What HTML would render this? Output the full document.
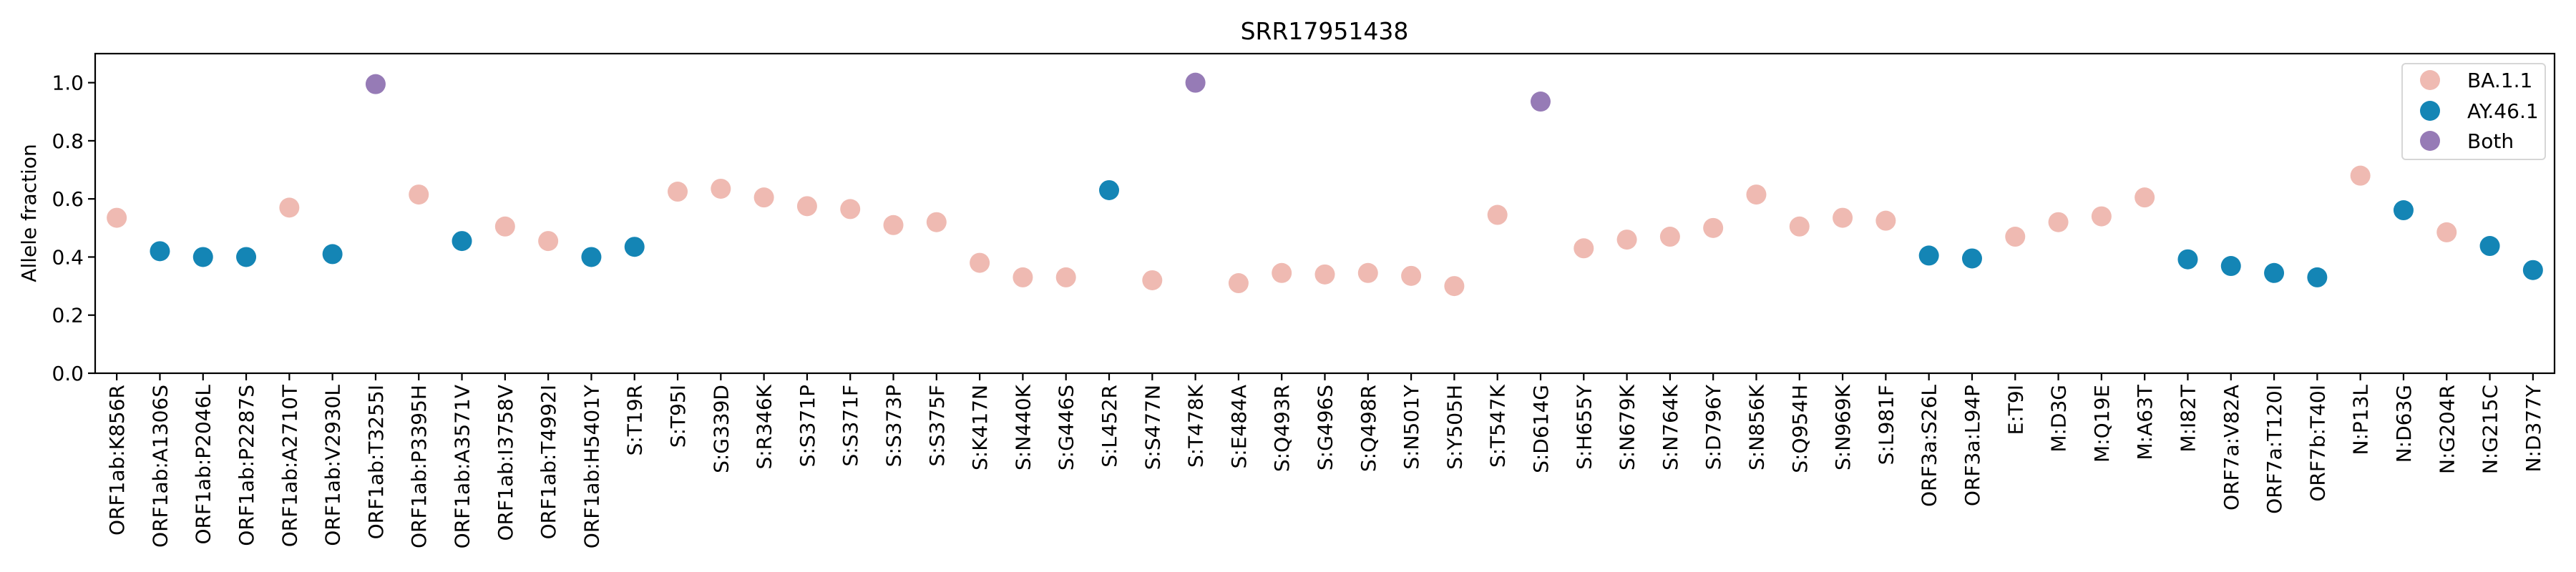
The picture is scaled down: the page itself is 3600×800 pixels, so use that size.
<!DOCTYPE html>
<html><head><meta charset="utf-8"><style>
html,body{margin:0;padding:0;background:#fff}
svg{display:block;font-family:"DejaVu Sans","Liberation Sans",sans-serif}
</style></head><body>
<svg id="chart" width="3600" height="800" viewBox="0 0 3600 800" xmlns="http://www.w3.org/2000/svg">
<text x="1851" y="55" font-size="33" text-anchor="middle">SRR17951438</text>
<text transform="translate(50,298) rotate(-90)" font-size="28" text-anchor="middle">Allele fraction</text>
<g id="yaxis"></g>
<g id="xaxis"></g>
<g id="points"></g>
<rect x="133" y="75" width="3437" height="447" fill="none" stroke="#000" stroke-width="2.2"/>
<g>
<rect x="3357" y="89" width="200" height="134" rx="5" fill="#fff" fill-opacity="0.8" stroke="#d6d6d6" stroke-width="2"/>
<circle cx="3396" cy="112" r="14" fill="#efbab2"/>
<text x="3448" y="122" font-size="28">BA.1.1</text>
<circle cx="3396" cy="155" r="14" fill="#1485b5"/>
<text x="3448" y="165" font-size="28">AY.46.1</text>
<circle cx="3396" cy="197" r="14" fill="#967bb6"/>
<text x="3448" y="207" font-size="28">Both</text>
</g>
</svg>
<script>
const categories = ["ORF1ab:K856R","ORF1ab:A1306S","ORF1ab:P2046L","ORF1ab:P2287S","ORF1ab:A2710T","ORF1ab:V2930L","ORF1ab:T3255I","ORF1ab:P3395H","ORF1ab:A3571V","ORF1ab:I3758V","ORF1ab:T4992I","ORF1ab:H5401Y","S:T19R","S:T95I","S:G339D","S:R346K","S:S371P","S:S371F","S:S373P","S:S375F","S:K417N","S:N440K","S:G446S","S:L452R","S:S477N","S:T478K","S:E484A","S:Q493R","S:G496S","S:Q498R","S:N501Y","S:Y505H","S:T547K","S:D614G","S:H655Y","S:N679K","S:N764K","S:D796Y","S:N856K","S:Q954H","S:N969K","S:L981F","ORF3a:S26L","ORF3a:L94P","E:T9I","M:D3G","M:Q19E","M:A63T","M:I82T","ORF7a:V82A","ORF7a:T120I","ORF7b:T40I","N:P13L","N:D63G","N:G204R","N:G215C","N:D377Y"];
const fractions = [0.535,0.42,0.40,0.40,0.57,0.41,0.995,0.615,0.455,0.505,0.455,0.40,0.435,0.625,0.635,0.605,0.575,0.565,0.51,0.52,0.38,0.33,0.33,0.63,0.32,1.0,0.31,0.345,0.34,0.345,0.335,0.30,0.545,0.935,0.43,0.46,0.47,0.50,0.615,0.505,0.535,0.525,0.405,0.395,0.47,0.52,0.54,0.605,0.392,0.369,0.345,0.33,0.68,0.561,0.485,0.438,0.355];
const lineages = ["B","A","A","A","B","A","Both","B","A","B","B","A","A","B","B","B","B","B","B","B","B","B","B","A","B","Both","B","B","B","B","B","B","B","Both","B","B","B","B","B","B","B","B","A","A","B","B","B","B","A","A","A","A","B","A","B","A","A"];
const yTicks = [0.0,0.2,0.4,0.6,0.8,1.0];
const yTickLabels = ["0.0","0.2","0.4","0.6","0.8","1.0"];

const NS="http://www.w3.org/2000/svg";
const L=133,R=3570,T=75,B=522,YMAX=1.1;
const n=categories.length;
const xs=i=>L+(i+0.5)*(R-L)/n;
const ys=v=>B-v*(B-T)/YMAX;
const colors={B:"#efbab2",A:"#1485b5",Both:"#967bb6"};
function mk(tag,attrs){const e=document.createElementNS(NS,tag);for(const k in attrs)e.setAttribute(k,attrs[k]);return e;}
const ya=document.getElementById('yaxis');
yTicks.forEach((v,i)=>{
  const t=mk('line',{x1:L-10,x2:L,y1:ys(v),y2:ys(v),stroke:'#000','stroke-width':2.2});
  
  
  ya.appendChild(t);
  const tx=mk('text',{x:L-16,y:ys(v)+10,'font-size':28,'text-anchor':'end'});
  tx.textContent=yTickLabels[i];
  
  
  ya.appendChild(tx);
});
const xa=document.getElementById('xaxis');
categories.forEach((c,i)=>{
  const x=xs(i);
  const t=mk('line',{x1:x,x2:x,y1:B,y2:B+10,stroke:'#000','stroke-width':2.2});
  
  
  xa.appendChild(t);
  const tx=mk('text',{transform:`translate(${x+10},${B+16}) rotate(-90)`,'font-size':28,'text-anchor':'end'});
  tx.textContent=c;
  
  
  xa.appendChild(tx);
});
const pg=document.getElementById('points');
fractions.forEach((v,i)=>{
  const p=mk('circle',{cx:xs(i),cy:ys(v),r:14,fill:colors[lineages[i]]});
  
  
  pg.appendChild(p);
});
</script>
</body></html>
